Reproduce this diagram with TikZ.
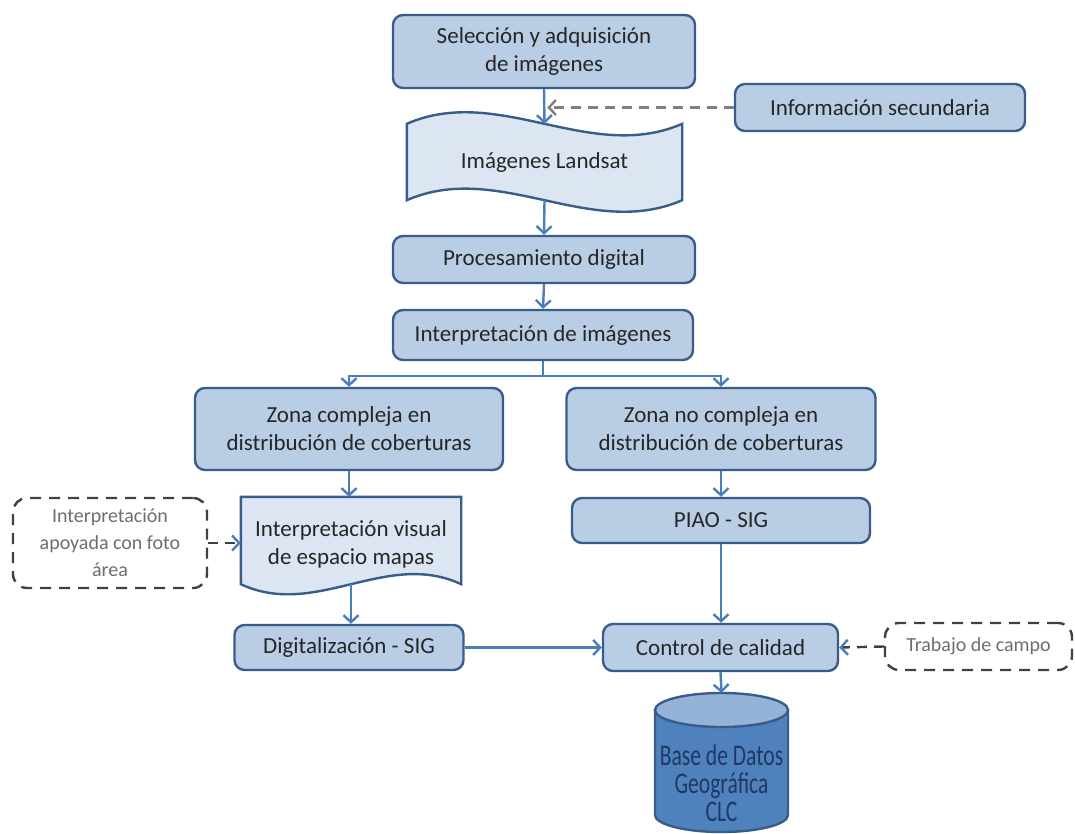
\documentclass[tikz,border=0pt]{standalone}
\usepackage{fontspec}
\setmainfont{Carlito}
\newfontfamily\dbfont{Carlito}[FakeStretch=0.72]
\usetikzlibrary{arrows.meta,positioning,calc,backgrounds}
\definecolor{boxfill}{HTML}{B9CDE5}
\definecolor{docfill}{HTML}{DCE6F2}
\definecolor{boxborder}{HTML}{385D8A}
\definecolor{arrowblue}{HTML}{4A7EBB}
\definecolor{dbfill}{HTML}{4F81BD}
\definecolor{dbtop}{HTML}{95B3D7}
\definecolor{textdark}{HTML}{262626}
\definecolor{extgray}{HTML}{404040}
\definecolor{exttext}{HTML}{6E6E6E}
\definecolor{dbtext}{HTML}{1F3864}
\definecolor{dashgray}{HTML}{7F7F7F}
\tikzset{
    box color/.style={draw=boxborder,fill=boxfill},
    stepbox/.style={rectangle,rounded corners=10pt,box color,line width=2.4pt,text=textdark,align=center},
    docbox/.style={rectangle,text=textdark,align=center},
    doc shape/.style={draw=boxborder,fill=docfill,line width=2.4pt},
    extbox/.style={rectangle,rounded corners=14pt,draw=extgray,fill=white,line width=2.4pt,dash pattern=on 11pt off 8pt,text=exttext,align=center,font=\fontsize{20}{27}\selectfont},
    dbnode/.style={text=dbtext,align=center,font=\dbfont\fontsize{30}{28}\selectfont},
    db shape/.style={draw=boxborder,line width=2.4pt},
    arr/.style={-{Straight Barb[length=7pt,width=15pt]},line width=2.4pt,arrowblue},
    line/.style={line width=2.4pt,arrowblue},
    darr/.style={arr,dashgray,dash pattern=on 10pt off 7pt},
    bluetip/.style={-{Straight Barb[length=7pt,width=15pt,color=arrowblue]}},
}
\tikzstyle{every node}=[font=\fontsize{23}{28}\selectfont]

\begin{document}
\begin{tikzpicture}[x=1pt,y=-1pt]
    \useasboundingbox (0,0) rectangle (1075,834);

    % main flow
    \node[stepbox,minimum width=302pt,minimum height=73pt] (sel) at (544,51.5) {Selección y adquisición\\de imágenes};
    \node[stepbox,minimum width=290pt,minimum height=47pt] (info) at (880,107.5) {Información secundaria};
    \node[docbox,minimum width=275pt,minimum height=76pt] (land) at (544.5,162) {Imágenes Landsat};
    \node[stepbox,minimum width=302pt,minimum height=47pt] (proc) at (544,259.5) {Procesamiento digital};
    \node[stepbox,minimum width=300pt,minimum height=50pt] (interp) at (543,335) {Interpretación de imágenes};
    \coordinate (split) at ($(interp.south)+(0,15)$);

    % two branches
    \node[stepbox,minimum width=308pt,minimum height=82pt] (lzone) at (349,429) {Zona compleja en\\distribución de coberturas};
    \node[stepbox,minimum width=309pt,minimum height=82pt] (rzone) at (721,429) {Zona no compleja en\\distribución de coberturas};
    \node[docbox,minimum width=220pt,minimum height=94pt] (visual) at (351,544) {Interpretación visual\\de espacio mapas};
    \node[extbox,minimum width=194pt,minimum height=90pt] (foto) at (110,543) {Interpretación\\apoyada con foto\\área};
    \node[stepbox,minimum width=298pt,minimum height=45pt] (piao) at (721,520.5) {PIAO - SIG};
    \node[stepbox,minimum width=229pt,minimum height=45pt] (digit) at (349,647.5) {Digitalización - SIG};
    \node[stepbox,minimum width=235pt,minimum height=47pt] (control) at (720.5,647.5) {Control de calidad};
    \node[extbox,minimum width=187pt,minimum height=47pt] (campo) at (978.5,646.5) {Trabajo de campo};
    \node[dbnode] (base) at (721.5,783) {Base de Datos\\Geográfica\\CLC};
    \coordinate (base top) at ($(base.center)+(0,-90)$);
    \coordinate (visual bottom) at ($(visual.south)+(0,-7)$);
    \coordinate (joint) at ($(sel.south)!.5!(land.north)$);

    \begin{scope}[on background layer]
        \path[doc shape] (land.north west) .. controls +(92,-40) and +(-92,40) .. (land.north east)
            -- (land.south east) .. controls +(-92,40) and +(92,-40) .. (land.south west) -- cycle;
        \path[doc shape] (visual.north west) -- (visual.north east) -- ($(visual.south east)+(0,-7)$)
            .. controls +(-75,-35) and +(75,35) .. ($(visual.south west)+(0,-7)$) -- cycle;
        \path[db shape,fill=dbfill] ($(base.center)+(-66.5,-73)$) -- ($(base.center)+(-66.5,32)$)
            arc[start angle=180,end angle=360,x radius=66.5pt,y radius=17pt] -- ($(base.center)+(66.5,-73)$) -- cycle;
        \path[db shape,fill=dbtop] ($(base.center)+(0,-73)$) ellipse[x radius=66.5pt,y radius=17pt];
    \end{scope}

    % connectors
    \draw[arr] (sel.south) -- (land.north);
    \draw[darr,shorten >=3pt] (info.west) -- (info.west -| joint);
    \draw[arr] (land.south) -- (proc.north);
    \draw[arr] (proc.south) -- (interp.north);
    \draw[line] (interp.south) -- (split);
    \draw[arr] (split) -| (lzone.north);
    \draw[arr] (split) -| (rzone.north);
    \draw[arr] (lzone.south) -- (lzone.south |- visual.north);
    \draw[arr] (rzone.south) -- (rzone.south |- piao.north);
    \draw[darr,extgray,bluetip] (foto.east) -- (foto.east -| visual.west);
    \draw[arr] (visual bottom) -- (visual bottom |- digit.north);
    \draw[arr] (piao.south) -- (piao.south |- control.north);
    \draw[arr] (digit.east) -- (control.west);
    \draw[darr,extgray,bluetip] (campo.west) -- (control.east);
    \draw[arr] (control.south) -- (base top);
\end{tikzpicture}
\end{document}
